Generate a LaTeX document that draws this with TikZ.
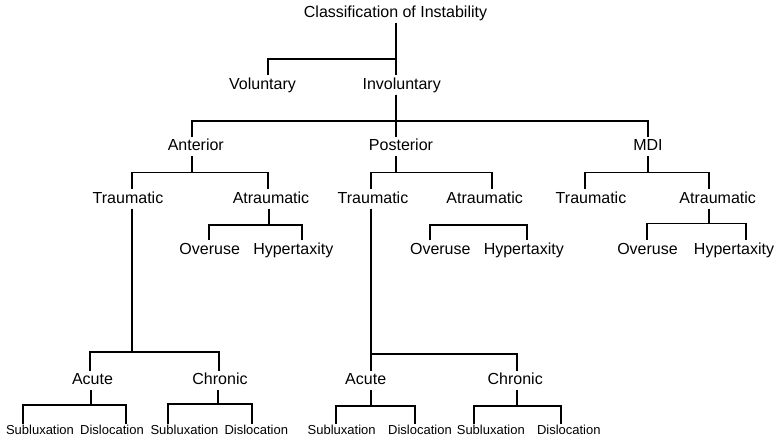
\documentclass[tikz,border=0pt]{standalone}
\usepackage{fontspec}
\setmainfont{Liberation Sans}
\usepackage{tikz}
\tikzset{
	term/.style={font=\fontsize{16}{19}\selectfont, text height=11.5pt, text depth=3.5pt, inner sep=2pt},
	leaf/.style={font=\fontsize{13}{15}\selectfont, text height=9.3pt, text depth=2.8pt, inner sep=1.5pt},
	branch/.style={line width=1.8pt}
}

\begin{document}
\begin{tikzpicture}[x=1pt,y=-1pt]
	\useasboundingbox (0,0) rectangle (780,440);
	% top
	\node[term] (cls) at (395.5,13.3) {Classification of Instability};
	\node[term] (vol) at (262.5,85) {Voluntary};
	\node[term] (inv) at (401.7,85) {Involuntary};
	\node[term] (ant) at (195.8,146.7) {Anterior};
	\node[term] (post) at (401,146.7) {Posterior};
	\node[term] (mdi) at (648,146.7) {MDI};
	% second level
	\node[term] (aT) at (128,199) {Traumatic};
	\node[term] (aA) at (271,199) {Atraumatic};
	\node[term] (pT) at (373,199) {Traumatic};
	\node[term] (pA) at (484.7,199) {Atraumatic};
	\node[term] (mT) at (591,199) {Traumatic};
	\node[term] (mA) at (717.7,199) {Atraumatic};
	\node[term] (aAO) at (209.7,250) {Overuse};
	\node[term] (aAH) at (293.3,250) {Hypertaxity};
	\node[term] (pAO) at (440.3,250) {Overuse};
	\node[term] (pAH) at (523.8,250) {Hypertaxity};
	\node[term] (mAO) at (647.5,250) {Overuse};
	\node[term] (mAH) at (734,250) {Hypertaxity};
	% acute / chronic
	\node[term] (aAc) at (92.5,380.7) {Acute};
	\node[term] (aCh) at (220,380.7) {Chronic};
	\node[term] (pAc) at (365.7,380.7) {Acute};
	\node[term] (pCh) at (515.2,380.7) {Chronic};
	\node[leaf] (aAcS) at (40,431.7) {Subluxation};
	\node[leaf] (aAcD) at (112,431.7) {Dislocation};
	\node[leaf] (aChS) at (184.5,431.7) {Subluxation};
	\node[leaf] (aChD) at (256.3,431.7) {Dislocation};
	\node[leaf] (pAcS) at (341.7,431.7) {Subluxation};
	\node[leaf] (pAcD) at (420,431.7) {Dislocation};
	\node[leaf] (pChS) at (490.8,431.7) {Subluxation};
	\node[leaf] (pChD) at (568.8,431.7) {Dislocation};

	\draw[branch] ([xshift=0.5pt]cls.south) -- ++(0,36.2) -| ([xshift=5.8pt]vol.north);
	\draw[branch] ([xshift=0.5pt]cls.south) -- ([xshift=-5.7pt]inv.north);
	\draw[branch] ([xshift=-5.7pt]inv.south) -- ++(0,26.2) -| ([xshift=-4.1pt]ant.north);
	\draw[branch] ([xshift=-5.7pt]inv.south) -- ([xshift=-5pt]post.north);
	\draw[branch] ([xshift=-5.7pt]inv.south) -- ++(0,26.2) -| ([xshift=-0.3pt]mdi.north);
	\draw[branch] ([xshift=-4.1pt]ant.south) -- ++(0,16.1) -| ([xshift=3.7pt]aT.north);
	\draw[branch] ([xshift=-4.1pt]ant.south) -- ++(0,16.1) -| ([xshift=-2.7pt]aA.north);
	\draw[branch] ([xshift=-5pt]post.south) -- ++(0,16.1) -| ([xshift=-2.3pt]pT.north);
	\draw[branch] ([xshift=-5pt]post.south) -- ++(0,16.1) -| ([xshift=7pt]pA.north);
	\draw[branch] ([xshift=-0.3pt]mdi.south) -- ++(0,16.1) -| ([xshift=-6pt]mT.north);
	\draw[branch] ([xshift=-0.3pt]mdi.south) -- ++(0,16.1) -| ([xshift=-8.4pt]mA.north);
	\draw[branch] ([xshift=-2pt]aA.south) -- ++(0,16.5) -| ([xshift=-0.4pt]aAO.north);
	\draw[branch] ([xshift=-2pt]aA.south) -- ++(0,16.5) -| ([xshift=9pt]aAH.north);
	%\draw[branch] (pA.south) -- ++(0,16.5);
	\draw[branch] ([xshift=-10.3pt]pAO.north) -- ++(0,-15.5) -| ([xshift=2.9pt]pAH.north);
	\draw[branch] ([xshift=-8.4pt]mA.south) -- ++(0,14.8) -| ([xshift=-0.8pt]mAO.north);
	\draw[branch] ([xshift=-8.4pt]mA.south) -- ++(0,14.8) -| ([xshift=12pt]mAH.north);
	\draw[branch] ([xshift=3.7pt]aT.south) -- ++(0,143.5) -| ([xshift=-2.5pt]aAc.north);
	\draw[branch] ([xshift=3.7pt]aT.south) -- ++(0,143.5) -| ([xshift=-1pt]aCh.north);
	\draw[branch] ([xshift=-2.3pt]pT.south) -- ([xshift=5pt]pAc.north);
	\draw[branch] ([xshift=-2.3pt]pT.south) -- ++(0,145.5) -| ([xshift=2.1pt]pCh.north);
	\draw[branch] ([xshift=-1.8pt]aAc.south) -- ++(0,14.8) -| ([xshift=-16.7pt]aAcS.north);
	\draw[branch] ([xshift=-1.8pt]aAc.south) -- ++(0,14.8) -| ([xshift=13.7pt]aAcD.north);
	\draw[branch] ([xshift=-1.7pt]aCh.south) -- ++(0,13.8) -| ([xshift=-16.8pt]aChS.north);
	\draw[branch] ([xshift=-1.7pt]aCh.south) -- ++(0,13.8) -| ([xshift=-4.6pt]aChD.north);
	\draw[branch] ([xshift=5.3pt]pAc.south) -- ++(0,15.8) -| ([xshift=-5.7pt]pAcS.north);
	\draw[branch] ([xshift=5.3pt]pAc.south) -- ++(0,15.8) -| ([xshift=-5pt]pAcD.north);
	\draw[branch] ([xshift=2.1pt]pCh.south) -- ++(0,15.8) -| ([xshift=-16.8pt]pChS.north);
	\draw[branch] ([xshift=2.1pt]pCh.south) -- ++(0,15.8) -| ([xshift=-8.1pt]pChD.north);
\end{tikzpicture}
\end{document}
